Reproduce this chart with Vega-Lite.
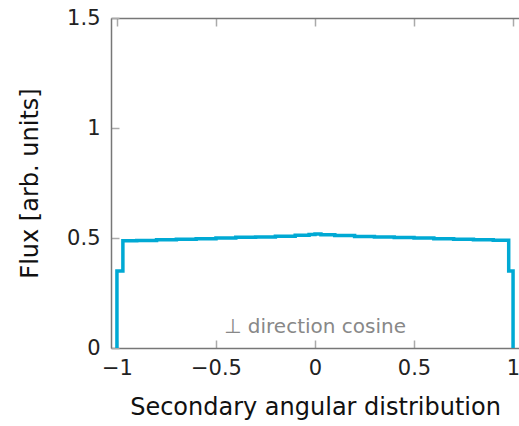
{
  "$schema": "https://vega.github.io/schema/vega-lite/v6.json",
  "width": 408,
  "height": 330,
  "autosize": {"type": "none"},
  "padding": {"left": 111, "top": 18, "right": 0, "bottom": 78},
  "config": {
    "view": {"stroke": null},
    "axis": {
      "grid": false,
      "domainColor": "#777",
      "domainWidth": 1.5,
      "tickColor": "#aaa",
      "tickWidth": 1.5,
      "tickSize": -8,
      "labelFont": "DejaVu Sans",
      "labelFontSize": 21,
      "labelColor": "#222",
      "titleFont": "DejaVu Sans",
      "titleFontSize": 24,
      "titleFontWeight": "normal",
      "titleColor": "#111",
      "format": "~g"
    }
  },
  "resolve": {"axis": {"x": "independent"}},
  "layer": [
    {
      "data": {"values": [
        {"i": 0, "x": -1.0, "flux": 0},
        {"i": 1, "x": -1.0, "flux": 0.35},
        {"i": 2, "x": -0.97, "flux": 0.487},
        {"i": 3, "x": -0.9, "flux": 0.489},
        {"i": 4, "x": -0.8, "flux": 0.492},
        {"i": 5, "x": -0.7, "flux": 0.494},
        {"i": 6, "x": -0.6, "flux": 0.497},
        {"i": 7, "x": -0.5, "flux": 0.5},
        {"i": 8, "x": -0.4, "flux": 0.503},
        {"i": 9, "x": -0.3, "flux": 0.505},
        {"i": 10, "x": -0.2, "flux": 0.508},
        {"i": 11, "x": -0.1, "flux": 0.512},
        {"i": 12, "x": -0.03, "flux": 0.516},
        {"i": 13, "x": 0.0, "flux": 0.518},
        {"i": 14, "x": 0.03, "flux": 0.515},
        {"i": 15, "x": 0.1, "flux": 0.511},
        {"i": 16, "x": 0.2, "flux": 0.507},
        {"i": 17, "x": 0.3, "flux": 0.505},
        {"i": 18, "x": 0.4, "flux": 0.502},
        {"i": 19, "x": 0.5, "flux": 0.5},
        {"i": 20, "x": 0.6, "flux": 0.497},
        {"i": 21, "x": 0.7, "flux": 0.494},
        {"i": 22, "x": 0.8, "flux": 0.492},
        {"i": 23, "x": 0.9, "flux": 0.49},
        {"i": 24, "x": 0.978, "flux": 0.35},
        {"i": 25, "x": 1.0, "flux": 0}
      ]},
      "mark": {"type": "line", "interpolate": "step-after", "color": "#00a9d4", "strokeWidth": 3.5},
      "encoding": {
        "x": {
          "field": "x", "type": "quantitative",
          "scale": {"domain": [-1.03, 1.03], "nice": false, "zero": false},
          "axis": {"orient": "bottom", "values": [-1, -0.5, 0, 0.5, 1], "title": "Secondary angular distribution", "labelPadding": 17, "titlePadding": 17}
        },
        "y": {
          "field": "flux", "type": "quantitative",
          "scale": {"domain": [0, 1.5], "nice": false},
          "axis": {"values": [0, 0.5, 1, 1.5], "title": "Flux [arb. units]", "labelPadding": 19, "titlePadding": 24}
        },
        "order": {"field": "i", "type": "quantitative"}
      }
    },
    {
      "data": {"values": [{"x": 0, "flux": 0.095, "label": "⊥ direction cosine"}]},
      "mark": {"type": "text", "font": "DejaVu Sans", "fontSize": 20, "color": "#888", "baseline": "middle", "align": "center"},
      "encoding": {
        "x": {"field": "x", "type": "quantitative", "axis": {"orient": "top", "values": [-1, -0.5, 0, 0.5, 1], "labels": false, "title": null}},
        "y": {"field": "flux", "type": "quantitative"},
        "text": {"field": "label"}
      }
    }
  ]
}
